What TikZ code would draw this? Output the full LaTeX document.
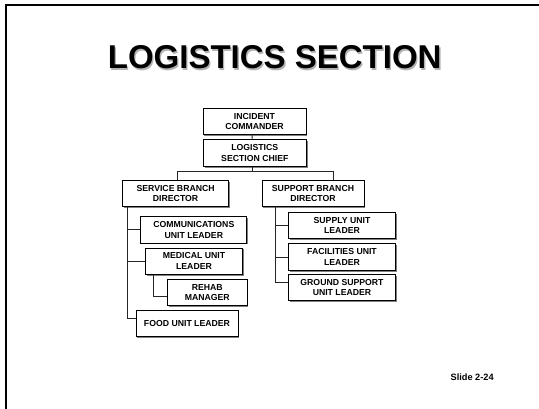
\documentclass[tikz,border=0pt]{standalone}
\usepackage{fontspec}
\setmainfont{Liberation Sans}
\usetikzlibrary{shadows}
\begin{document}
\begin{tikzpicture}[x=1pt,y=-1pt,
  box/.style={draw=black, line width=0.9pt, fill=white, align=center,
    inner sep=0pt, minimum height=26.5pt,
    font=\fontsize{8.7}{10.7}\selectfont\bfseries,
    drop shadow={shadow xshift=1.4pt, shadow yshift=-1.4pt, fill=black!55, opacity=0.9}},
  link/.style={draw=black!85, line width=0.9pt}]
\useasboundingbox (0,0) rectangle (539,409);
\fill[white] (0,0) rectangle (539,409);
% slide frame (top and left edges)
\draw[line width=2.2pt] (5.8,409) -- (5.8,5) -- (539,5);
% heading with its soft shadow
\node[anchor=base, text=black!30, font=\fontsize{33}{36}\selectfont\bfseries] (titleshadow) at (276,70.2) {LOGISTICS SECTION};
\node[anchor=base, font=\fontsize{33}{36}\selectfont\bfseries] (title) at (274.7,69) {LOGISTICS SECTION};
% chart boxes
\node[box, minimum width=103pt] (ic) at (254.5,121.5) {INCIDENT\\COMMANDER};
\node[box, minimum width=103pt] (lsc) at (254.8,153.2) {LOGISTICS\\SECTION CHIEF};
\node[box, minimum width=106pt] (sbd) at (175.6,193.5) {SERVICE BRANCH\\DIRECTOR};
\node[box, minimum width=102pt] (spbd) at (313,193.4) {SUPPORT BRANCH\\DIRECTOR};
\node[box, minimum width=106pt] (comm) at (193.8,229.8) {COMMUNICATIONS\\UNIT LEADER};
\node[box, minimum width=97.5pt] (med) at (194,261.3) {MEDICAL UNIT\\LEADER};
\node[box, minimum width=79.5pt] (rehab) at (207.3,292.6) {REHAB\\MANAGER};
\node[box, minimum width=102pt, minimum height=25.5pt] (food) at (187,323.6) {FOOD UNIT LEADER};
\node[box, minimum width=106.5pt] (supply) at (342,225.6) {SUPPLY UNIT\\LEADER};
\node[box, minimum width=106.5pt] (fac) at (342,257) {FACILITIES UNIT\\LEADER};
\node[box, minimum width=106.5pt, minimum height=25.5pt] (ground) at (342,287.6) {GROUND SUPPORT\\UNIT LEADER};
% entry points on the box edges
\coordinate (foodin) at ([yshift=5pt]food.west);
\coordinate (rehabin) at ([yshift=-4pt]rehab.west);
\coordinate (groundin) at ([yshift=5pt]ground.west);
\coordinate (svctrunk) at ([xshift=5pt]sbd.south west);
\coordinate (suptrunk) at ([xshift=13.4pt]spbd.south west);
% connectors
\draw[link] ([xshift=-2.5pt]ic.south) -- ([xshift=-2.5pt]lsc.north);
\coordinate (bus) at ([xshift=-2.5pt,yshift=-4.5pt]lsc.south);
\draw[link] ([xshift=-2.5pt]lsc.south) -- (bus);
\draw[link] ([xshift=1.7pt]sbd.north) |- (bus) -| ([xshift=20.3pt]spbd.north);
% service branch
\draw[link] (svctrunk) |- (foodin);
\draw[link] (svctrunk |- comm.west) -- (comm.west);
\draw[link] (svctrunk |- med.west) -- (med.west);
\draw[link] ([xshift=9pt]med.south west) |- (rehabin);
% support branch
\draw[link] (suptrunk) |- (groundin);
\draw[link] (suptrunk |- supply.west) -- (supply.west);
\draw[link] (suptrunk |- fac.west) -- (fac.west);
% slide number
\node[anchor=base west, inner sep=0pt, font=\fontsize{9.2}{11}\selectfont\bfseries] (slideno) at (450.5,380.7) {Slide 2-24};
\end{tikzpicture}
\end{document}
